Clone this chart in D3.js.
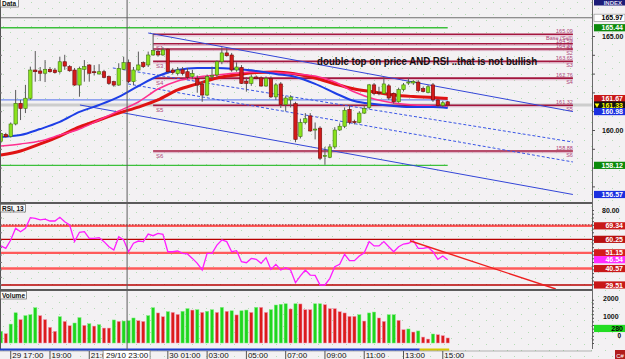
<!DOCTYPE html>
<html>
<head>
<meta charset="utf-8">
<script src="https://d3js.org/d3.v7.min.js"></script>
<style>
  html, body { margin: 0; padding: 0; background: #f3f1f3; overflow: hidden; }
  svg { display: block; font-family: 'Liberation Sans', Arial, sans-serif; }
</style>
</head>
<body>
<div id="chart"></div>
<script>
// ---- data (15 min bars, 29/10 16:30 -> 30/10 15:15) ----
const opens  = [159.40,159.77,159.65,160.32,161.42,161.15,161.69,163.19,163.14,163.02,163.23,163.19,163.10,163.63,163.37,163.19,162.39,163.23,163.46,163.10,
                162.98,163.10,162.84,162.57,162.39,163.23,163.58,162.57,163.19,163.58,163.46,163.99,164.17,163.99,164.30,163.19,163.00,163.20,163.10,162.85,
                162.75,162.44,161.86,162.84,162.93,163.63,164.10,163.99,163.19,163.33,162.60,162.48,162.82,162.77,162.34,162.75,161.76,162.45,161.35,161.60,
                161.40,159.65,160.40,160.75,160.00,160.10,158.60,158.55,159.10,160.00,160.20,161.10,160.45,160.40,160.90,161.20,162.40,162.00,161.95,162.35,
                161.95,161.50,162.15,162.50,162.50,162.55,162.20,162.00,162.40,161.60,161.30,161.50];
const highs  = [159.85,159.85,160.40,162.13,161.60,162.40,163.37,164.20,163.35,163.72,163.35,163.30,163.90,164.00,163.45,163.30,163.37,163.72,163.50,163.45,
                163.50,163.20,162.90,162.62,163.55,163.90,163.75,163.35,164.17,163.65,164.17,165.10,164.30,164.40,164.35,163.30,163.35,163.35,163.30,163.20,
                162.90,162.60,162.95,163.37,163.70,164.40,164.35,164.10,163.60,163.45,162.80,162.95,162.90,162.85,162.85,162.85,162.50,162.55,161.80,161.85,
                161.50,160.60,160.90,160.90,160.40,160.20,159.10,159.25,160.15,160.35,161.20,161.30,160.55,161.00,161.30,162.45,162.50,162.30,162.80,162.45,
                162.00,162.25,162.50,162.75,162.65,162.65,162.30,162.40,162.50,161.65,161.55,161.55];
const lows   = [159.30,159.60,159.60,160.25,160.53,160.90,161.60,162.57,162.60,162.55,163.05,163.00,163.00,163.20,163.10,162.35,161.77,162.57,162.57,162.90,
                162.95,162.75,162.40,162.30,162.35,163.20,162.50,162.39,163.15,163.30,163.35,163.95,163.90,163.95,163.00,162.95,162.90,162.90,162.70,162.70,
                161.98,161.50,161.80,162.70,162.80,163.50,163.90,163.10,163.10,162.45,162.04,162.35,162.70,162.30,162.30,161.70,161.60,161.17,161.00,161.20,
                159.35,159.55,160.30,159.90,159.50,158.40,158.15,158.50,159.00,159.95,160.10,160.30,160.30,160.35,160.85,161.10,161.85,161.85,161.90,161.60,
                161.40,161.45,162.05,162.40,162.40,162.00,162.00,161.95,161.50,161.20,161.20,161.25];
const closes = [159.82,159.64,160.32,161.42,161.15,161.69,163.19,163.10,163.02,163.23,163.10,163.05,163.63,163.40,163.15,162.39,163.28,163.37,163.02,163.05,
                163.10,162.80,162.48,162.39,163.28,163.58,162.57,163.19,163.46,163.37,163.99,164.22,163.99,164.26,163.10,163.05,163.20,163.00,162.80,163.00,
                162.39,161.86,162.84,162.90,163.63,164.10,163.95,163.19,163.35,162.48,162.48,162.82,162.75,162.34,162.75,161.76,162.40,161.35,161.70,161.75,
                159.50,160.40,160.60,159.95,160.05,158.50,158.65,159.10,160.00,160.20,161.05,160.40,160.40,160.90,161.15,162.40,161.95,161.95,162.45,161.70,
                161.50,162.15,162.40,162.55,162.58,162.10,162.05,162.30,161.60,161.30,161.45,161.33];

const volumes = [650,520,1050,1680,1300,1520,1570,1960,1520,1300,870,650,1460,1200,960,1110,1410,980,1070,940,
                 1020,830,830,1280,1200,1220,1240,1390,1240,1200,1520,1960,1670,1460,1740,1700,1590,1760,1910,1830,
                 1850,1700,1760,1850,1700,1980,1760,1790,1560,1790,1830,1700,1980,1980,1700,1850,2110,2150,2180,1890,
                 2180,2170,1850,1850,2180,2180,2130,1910,1910,1740,1670,1480,1480,1570,1220,1670,1720,1390,1200,1570,
                 1570,1260,740,780,610,670,330,220,500,460,410,280];
const volumeUp = [1,0,1,1,0,1,1,1,0,0,0,0,1,0,0,1,1,0,1,0,
                  1,0,0,1,0,1,1,1,0,0,1,1,0,0,1,0,0,1,1,0,
                  1,0,1,1,0,1,0,1,0,1,1,0,1,0,0,1,1,1,1,0,
                  1,0,0,0,1,1,0,0,0,0,0,0,0,1,0,1,1,0,0,1,
                  1,0,0,1,0,1,0,0,1,0,0,0];

const rsiValues = [55.8,54.2,59.8,67.7,65.4,67.7,74.8,74.4,73.3,73.9,72.6,72.6,75.1,72.1,69.9,58.7,65.0,65.4,60.9,60.9,
                   61.4,58.7,55.3,53.1,62.0,59.8,51.9,57.6,59.1,58.7,63.8,62.7,64.3,63.6,51.9,51.9,52.4,50.8,50.4,47.4,
                   44.1,39.6,50.8,50.8,56.4,59.8,58.7,51.9,52.6,45.2,44.5,47.4,46.8,44.1,47.9,40.0,43.4,39.6,41.2,39.6,
                   31.0,35.6,39.6,36.2,36.0,29.5,29.5,34.0,41.8,43.4,50.2,45.9,45.9,49.0,51.2,58.7,55.8,55.8,58.7,55.3,
                   51.9,55.3,57.1,57.6,59.3,54.2,54.2,54.9,51.9,46.8,49.0,46.54];

// moving averages read every 4 bars
const maIndex = [0,4,8,12,16,20,24,28,32,36,40,44,48,52,56,60,64,68,72,76,80,84,88,91];
const maBlue  = [159.63,159.73,160.05,160.43,160.96,161.33,161.76,162.34,162.87,163.19,163.30,163.30,163.24,163.14,162.98,162.82,162.45,161.97,161.54,161.38,161.28,161.22,161.22,161.17];
const maPink  = [159.15,159.26,159.41,159.73,160.05,160.53,161.01,161.49,162.18,162.61,162.82,162.93,163.03,163.09,163.06,162.98,162.87,162.55,162.02,161.65,161.44,161.33,161.28,161.22];
const maRed   = [158.67,158.88,159.26,159.68,160.16,160.53,160.90,161.22,161.60,162.13,162.45,162.77,162.93,163.06,163.09,162.98,162.77,162.45,162.18,162.02,161.86,161.78,161.73,161.67];

const timeTickIndex = [2,10,18,26,34,42,50,58,66,74,82,90];
const timeLabels = ['29 17:00','19:00','21:00','23:00','30 01:00','03:00','05:00','07:00','09:00','11:00','13:00','15:00'];
const crosshairIndex = 25.7;
const crosshairLabel = '29/10 23:00';

const levelPrices = [165.09,164.59,164.31,163.65,162.76,161.32,158.88];
const levelNames  = ['Base (Sell)','S1','S2','S3','S4','S5','S6'];
const levelStart = 31, levelEnd = 116.5;

const channelUpper  = [[30,165.16],[116.5,160.98]];
const channelLower  = [[16.1,161.33],[116.5,156.57]];
const channelMidA   = [[22.8,163.30],[116.5,159.36]];
const channelMidB   = [[25.9,162.45],[116.5,158.30]];
const greenLevels = [165.44,158.12];
const topLevel = 165.97;
const lastPrice = 161.33;
const blueLevel = 161.60;

const rsiLevels = [69.34,60.25,51.15,40.57,29.51];
const rsiTrend = [[83.3,59.3],[113,26.8]];
const rsiLast = 46.54;

const priceMarks = [165.97,165.44,161.67,161.33,160.98,158.12,156.57];
const priceMarkFill = ['#ffffff','#0b8a0b','#c81818','#111111','#1a2fe0','#0b8a0b','#1a2fe0'];
const priceMarkText = ['#000','#fff','#fff','#ffff00','#fff','#fff','#fff'];

const annotation = 'double top on price AND RSI ..that is not bullish';
const annotationAt = [64.4,163.48];

// ---- layout ----
const W = 625, H = 359;
const plotRight = 592;
const mainBox = {top: 0, bottom: 202};
const rsiBox = {top: 204, bottom: 289};
const volBox = {top: 291, bottom: 348};

const x = d3.scaleLinear().domain([0, 91]).range([0.9, 447.7]);
const yP = d3.scaleLinear().domain([160, 165]).range([130, 36]);
const yR = d3.scaleLinear().domain([30, 80]).range([284.25, 210]);
const yV = d3.scaleLinear().domain([0, 2000]).range([343, 307]);

const svg = d3.select('#chart').append('svg').attr('width', W).attr('height', H);
const defs = svg.append('defs');
const pat = defs.append('pattern').attr('id', 'dots').attr('width', 14).attr('height', 12)
    .attr('patternUnits', 'userSpaceOnUse');
pat.append('rect').attr('width', 14).attr('height', 12).attr('fill', '#f3f1f3');
pat.append('rect').attr('x', 3).attr('y', 2).attr('width', 1).attr('height', 1).attr('fill', '#b4dcb4');
pat.append('rect').attr('x', 10).attr('y', 8).attr('width', 1).attr('height', 1).attr('fill', '#b4dcb4');
svg.append('rect').attr('width', W).attr('height', H).attr('fill', 'url(#dots)');

function clip(id, box) {
    defs.append('clipPath').attr('id', id).append('rect')
        .attr('x', 0).attr('y', box.top).attr('width', plotRight).attr('height', box.bottom - box.top);
}
clip('clip-main', mainBox);
clip('clip-rsi', rsiBox);
clip('clip-vol', volBox);

// ---- main price panel ----
const main = svg.append('g').attr('clip-path', 'url(#clip-main)');

const hline = (g, p, x0, x1, color, w) => g.append('line')
    .attr('x1', x0).attr('x2', x1).attr('y1', yP(p)).attr('y2', yP(p))
    .attr('stroke', color).attr('stroke-width', w);

hline(main, lastPrice, 0, plotRight, '#cdcdcd', 3);
hline(main, topLevel, 0, plotRight, '#6e6e6e', 1);
hline(main, blueLevel, 0, x(91), '#7088ee', 1.2);
greenLevels.forEach(p => hline(main, p, 0, x(91), '#3cc03c', 1.3));

// support / resistance levels
levelPrices.forEach((p, k) => {
    hline(main, p, x(levelStart), x(levelEnd), '#a3163e', 1.6);
    main.append('line').attr('x1', x(levelStart)).attr('x2', x(levelEnd))
        .attr('y1', yP(p) + 1.6).attr('y2', yP(p) + 1.6)
        .attr('stroke', '#d79ab6').attr('stroke-width', 0.8);
    main.append('text').attr('x', x(levelEnd)).attr('y', yP(p) - 1)
        .attr('text-anchor', 'end').attr('font-size', 5.5).attr('fill', '#b0457a').text(p.toFixed(2));
    main.append('text').attr('x', x(levelEnd)).attr('y', yP(p) + 6)
        .attr('text-anchor', 'end').attr('font-size', 5.5).attr('fill', '#b0457a').text(levelNames[k]);
    if (k > 0) {
        main.append('text').attr('x', x(levelStart) + 3).attr('y', yP(p) + 6.5)
            .attr('font-size', 6).attr('fill', '#b0457a').text(levelNames[k]);
    }
});

// channel
const seg = d3.line().x(d => x(d[0])).y(d => yP(d[1]));
[channelUpper, channelLower].forEach(c => main.append('path').attr('d', seg(c))
    .attr('fill', 'none').attr('stroke', '#3346d8').attr('stroke-width', 1));
[channelMidA, channelMidB].forEach(c => main.append('path').attr('d', seg(c))
    .attr('fill', 'none').attr('stroke', '#3a56e6').attr('stroke-width', 1).attr('stroke-dasharray', '3,2'));

// moving averages
const maLine = d3.line().x((d, k) => x(maIndex[k])).y(d => yP(d)).curve(d3.curveMonotoneX);
main.append('path').datum(maRed).attr('d', maLine).attr('fill', 'none').attr('stroke', '#e01212').attr('stroke-width', 3);
main.append('path').datum(maPink).attr('d', maLine).attr('fill', 'none').attr('stroke', '#ff2f8e').attr('stroke-width', 1.5);
main.append('path').datum(maBlue).attr('d', maLine).attr('fill', 'none').attr('stroke', '#1d3ee6').attr('stroke-width', 2);

// candles
const idx = d3.range(closes.length);
main.append('g').selectAll('line').data(idx).join('line')
    .attr('x1', i => x(i)).attr('x2', i => x(i))
    .attr('y1', i => yP(highs[i])).attr('y2', i => yP(lows[i]))
    .attr('stroke', '#5a5a5a').attr('stroke-width', 1);
main.append('g').selectAll('rect').data(idx).join('rect')
    .attr('x', i => x(i) - 1.7).attr('width', 3.4)
    .attr('y', i => yP(Math.max(opens[i], closes[i])))
    .attr('height', i => Math.max(1, Math.abs(yP(opens[i]) - yP(closes[i]))))
    .attr('fill', i => closes[i] >= opens[i] ? '#8ae21c' : '#d21a1a')
    .attr('stroke', i => closes[i] >= opens[i] ? '#3f7a10' : '#6e0c0c')
    .attr('stroke-width', 0.6);

main.append('text').attr('x', x(annotationAt[0])).attr('y', yP(annotationAt[1]))
    .attr('font-size', 10).attr('font-weight', 'bold').attr('fill', '#111')
    .attr('textLength', 220).attr('lengthAdjust', 'spacingAndGlyphs').text(annotation);

// ---- RSI panel ----
const rsi = svg.append('g').attr('clip-path', 'url(#clip-rsi)');
const rsiStyle = [
    {c: '#ff5a5a', w: 2.2, over: '#8a0000'},
    {c: '#b80000', w: 1.2},
    {c: '#ff5a5a', w: 2.4},
    {c: '#ff5a5a', w: 2.4},
    {c: '#b80000', w: 1.4}
];
rsiLevels.forEach((v, k) => {
    rsi.append('line').attr('x1', 0).attr('x2', plotRight).attr('y1', yR(v)).attr('y2', yR(v))
        .attr('stroke', rsiStyle[k].c).attr('stroke-width', rsiStyle[k].w);
    if (rsiStyle[k].over) {
        rsi.append('line').attr('x1', 0).attr('x2', plotRight).attr('y1', yR(v) - 1).attr('y2', yR(v) - 1)
            .attr('stroke', rsiStyle[k].over).attr('stroke-width', 0.8).attr('stroke-dasharray', '1.5,1.5');
    }
});
rsi.append('path').datum(rsiValues)
    .attr('d', d3.line().x((d, i) => x(i)).y(d => yR(d)))
    .attr('fill', 'none').attr('stroke', '#ff1cff').attr('stroke-width', 1.3);
rsi.append('path').attr('d', d3.line().x(d => x(d[0])).y(d => yR(d[1]))(rsiTrend))
    .attr('fill', 'none').attr('stroke', '#ee2020').attr('stroke-width', 1.4);

// ---- volume panel ----
const vol = svg.append('g').attr('clip-path', 'url(#clip-vol)');
vol.selectAll('rect').data(idx).join('rect')
    .attr('x', i => x(i) - 1.6).attr('width', 3.2)
    .attr('y', i => yV(volumes[i])).attr('height', i => yV(0) - yV(volumes[i]))
    .attr('fill', i => volumeUp[i] ? '#1fd61f' : '#dc1c1c')
    .attr('stroke', i => volumeUp[i] ? '#7cf07c' : '#f29ab8').attr('stroke-width', 0.5);

// ---- frame ----
svg.append('line').attr('x1', 0.5).attr('x2', 0.5).attr('y1', 0).attr('y2', volBox.bottom + 1)
    .attr('stroke', '#555').attr('stroke-width', 1);
svg.append('line').attr('x1', plotRight + 0.5).attr('x2', plotRight + 0.5).attr('y1', 0).attr('y2', volBox.bottom + 1)
    .attr('stroke', '#6a6a6a').attr('stroke-width', 1);
[203, 290].forEach(y => svg.append('line').attr('x1', 0).attr('x2', plotRight).attr('y1', y).attr('y2', y)
    .attr('stroke', '#5a5a5a').attr('stroke-width', 2));

// session strip under the volume panel (blue session, then yellow session)
const sessionSplit = 85.3;
svg.append('rect').attr('x', 0).attr('y', 348.5).attr('width', x(sessionSplit)).attr('height', 2.2).attr('fill', '#1b3fd0');
svg.append('rect').attr('x', x(sessionSplit)).attr('y', 348.5).attr('width', x(91) + 1.5 - x(sessionSplit)).attr('height', 2.2).attr('fill', '#d6c800');
svg.append('line').attr('x1', 0).attr('x2', plotRight).attr('y1', 351).attr('y2', 351).attr('stroke', '#888').attr('stroke-width', 0.6);

// crosshair
svg.append('line').attr('x1', x(crosshairIndex)).attr('x2', x(crosshairIndex)).attr('y1', 0).attr('y2', 351)
    .attr('stroke', '#5e5e5e').attr('stroke-width', 1);

// ---- axes ----
function styleAxis(g, fontSize) {
    g.select('.domain').remove();
    g.selectAll('.tick line').attr('stroke', '#555');
    g.selectAll('.tick text').attr('font-size', fontSize).attr('font-weight', 'bold')
        .attr('fill', '#111').attr('font-family', "'Liberation Sans', Arial, sans-serif");
}
const pAxis = svg.append('g').attr('transform', `translate(${plotRight},0)`)
    .call(d3.axisRight(yP).tickValues(d3.range(157, 166)).tickSize(3).tickPadding(7)
        .tickFormat(d => (d % 5 === 0 ? d.toFixed(2) : '')));
styleAxis(pAxis, 7);
const rAxis = svg.append('g').attr('transform', `translate(${plotRight},0)`)
    .call(d3.axisRight(yR).tickValues(d3.range(30, 81, 2.5)).tickSize(2).tickPadding(8)
        .tickFormat(d => (d === 80 ? d.toFixed(2) : '')));
styleAxis(rAxis, 7);
const vAxis = svg.append('g').attr('transform', `translate(${plotRight},0)`)
    .call(d3.axisRight(yV).tickValues(d3.range(0, 2401, 200)).tickSize(2).tickPadding(9)
        .tickFormat(d => (d === 1000 || d === 2000 ? d : '')));
styleAxis(vAxis, 7);
vAxis.selectAll('.tick text').attr('dy', '-0.95em');

// left edge minor ticks
svg.append('g').call(d3.axisRight(yP).tickValues(d3.range(156, 166)).tickSize(2).tickFormat(''))
    .call(g => g.select('.domain').remove()).selectAll('line').attr('stroke', '#777');
svg.append('g').call(d3.axisRight(yR).tickValues(d3.range(30, 81, 5)).tickSize(2).tickFormat(''))
    .call(g => g.select('.domain').remove()).selectAll('line').attr('stroke', '#777');

// value boxes on the right scale
function valueBox(y, label, fill, color) {
    svg.append('rect').attr('x', plotRight + 2).attr('y', y - 3.6).attr('width', W - plotRight - 2).attr('height', 7.2)
        .attr('fill', fill).attr('stroke', fill === '#ffffff' ? '#888' : 'none').attr('stroke-width', 0.6);
    svg.append('text').attr('x', W - 2).attr('y', y + 2.6).attr('text-anchor', 'end')
        .attr('font-size', 7).attr('font-weight', 'bold').attr('fill', color).text(label);
}
priceMarks.forEach((p, k) => valueBox(yP(p), p.toFixed(2), priceMarkFill[k], priceMarkText[k]));
svg.append('path').attr('d', d3.symbol(d3.symbolTriangle, 10)())
    .attr('transform', `translate(${plotRight + 5},${yP(lastPrice)}) rotate(180)`).attr('fill', '#ffff00');
const rsiFill = ['#c81818', '#b81010', '#d41c1c', '#c81818', '#c81818'];
rsiLevels.forEach((v, k) => valueBox(yR(v), v.toFixed(2), rsiFill[k], '#fff'));
valueBox(yR(rsiLast), rsiLast.toFixed(2), '#ff2cff', '#fff');
valueBox(yV(volumes[volumes.length - 1]) - 9.5, String(volumes[volumes.length - 1]), '#22dd22', '#000');
svg.append('text').attr('x', W - 4).attr('y', yV(0) - 5).attr('text-anchor', 'end')
    .attr('font-size', 6.5).attr('font-weight', 'bold').text('0');

// ---- time axis ----
const tAxis = svg.append('g');
const boxHalf = 24;
timeTickIndex.forEach((i, k) => {
    tAxis.append('line').attr('x1', x(i)).attr('x2', x(i)).attr('y1', 351).attr('y2', H)
        .attr('stroke', '#555').attr('stroke-width', 1);
    // the crosshair label covers the tick that sits under it
    if (Math.abs(x(i) - x(crosshairIndex)) > boxHalf) {
        tAxis.append('text').attr('x', x(i) + 1.5).attr('y', 358).attr('font-size', 8).attr('fill', '#111').text(timeLabels[k]);
    }
});
svg.append('rect').attr('x', x(crosshairIndex) - boxHalf).attr('y', 350.5).attr('width', boxHalf * 2 - 1).attr('height', 9)
    .attr('fill', '#fff').attr('stroke', '#777').attr('stroke-width', 0.8);
svg.append('text').attr('x', x(crosshairIndex)).attr('y', 358).attr('text-anchor', 'middle')
    .attr('font-size', 8).attr('fill', '#111').text(crosshairLabel);

// ---- panel tags ----
function tag(x0, y0, w, label) {
    svg.append('rect').attr('x', x0).attr('y', y0).attr('width', w).attr('height', 7.5)
        .attr('fill', '#fafafa').attr('stroke', '#666').attr('stroke-width', 0.7);
    svg.append('text').attr('x', x0 + 1.5).attr('y', y0 + 6).attr('font-size', 6.5)
        .attr('font-weight', 'bold').attr('fill', '#111').text(label);
}
tag(0.5, -0.5, 18, 'Data');
tag(0.5, 204.5, 25, 'RSI, 13');
tag(0.5, 291.5, 26, 'Volume');
svg.append('rect').attr('x', plotRight + 2).attr('y', -3).attr('width', W - plotRight - 2).attr('height', 8.5).attr('fill', '#1c1c78');
svg.append('text').attr('x', W - 3).attr('y', 4.5).attr('text-anchor', 'end').attr('font-size', 6)
    .attr('font-weight', 'bold').attr('fill', '#dde').text('INDEX');
svg.append('rect').attr('x', 615).attr('y', 350).attr('width', 10).attr('height', 9).attr('fill', '#b01c1c');
svg.append('text').attr('x', 620).attr('y', 357.5).attr('text-anchor', 'middle').attr('font-size', 6).attr('fill', '#fff').text('C#');
</script>
</body>
</html>
